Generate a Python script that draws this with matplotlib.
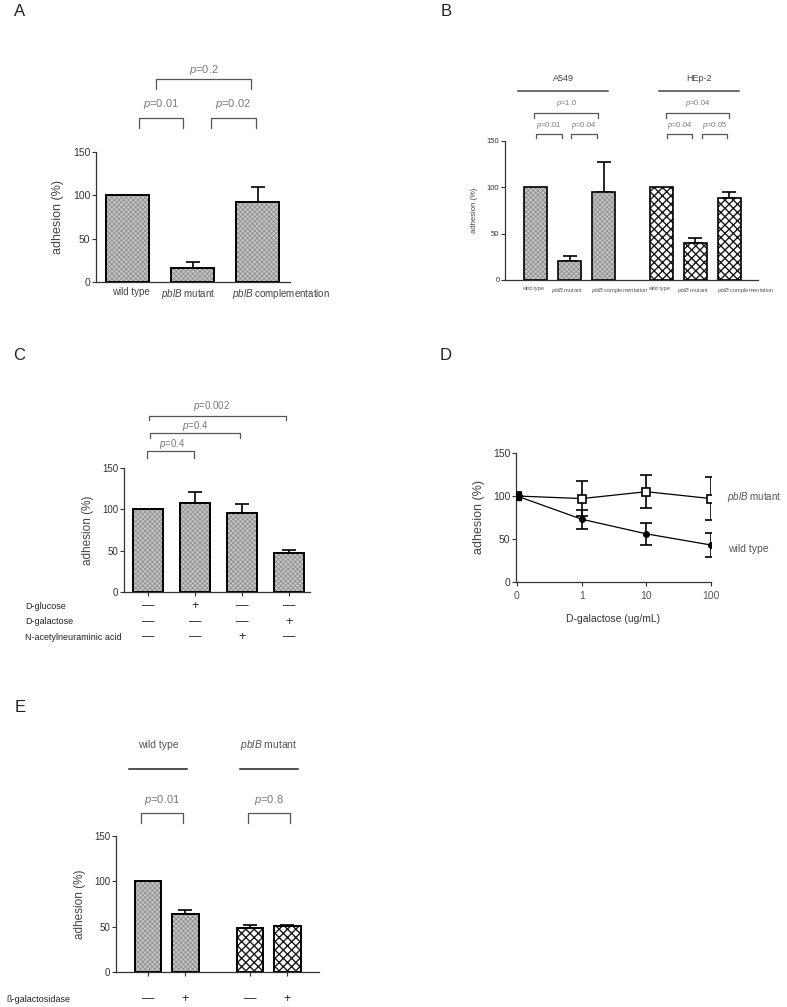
import numpy as np
import matplotlib
matplotlib.use("Agg")
import matplotlib.pyplot as plt

plt.rcParams['font.family'] = ['Liberation Sans', 'DejaVu Sans']
plt.rcParams['mathtext.fontset'] = 'custom'
plt.rcParams['mathtext.rm'] = 'Liberation Sans'
plt.rcParams['mathtext.it'] = 'Liberation Sans:italic'
plt.rcParams['hatch.linewidth'] = 0.5

W, H = 787, 1007

# ---- data ----
a_labels = ["wild type", "$\\it{pblB}$ mutant", "$\\it{pblB}$ complementation"]
a_vals = [100, 16, 92]
a_err = [0, 7, 18]

b_labels = ["wild type", "$\\it{pblB}$ mutant", "$\\it{pblB}$ complementation"] * 2
b_a549 = [100, 20, 95]
b_a549_err = [0, 6, 32]
b_hep2 = [100, 40, 88]
b_hep2_err = [0, 5, 7]

c_vals = [100, 108, 95, 47]
c_err = [0, 13, 12, 4]
c_rows = ["D-glucose", "D-galactose", "N-acetylneuraminic acid"]
c_signs = [["—", "+", "—", "—"],
           ["—", "—", "—", "+"],
           ["—", "—", "+", "—"]]

d_conc = ["0", "1", "10", "100"]
d_mut = [100, 97, 105, 97]
d_mut_err = [0, 20, 19, 25]
d_wt = [100, 73, 56, 43]
d_wt_err = [0, 11, 12.5, 13.5]

e_vals = [100, 64, 49, 51]
e_err = [0, 4, 3, 1]
e_signs = ["—", "+", "—", "+"]

FINE = dict(facecolor="#c4c4c4", hatch="xxxxxxx", edgecolor="#8a8a8a", hlw=0.5)
COARSE = dict(facecolor="white", hatch="xxxx", edgecolor="#1a1a1a", hlw=1.0)
PGREY = "#7a7a7a"
TGREY = "#444444"


def rect(x0, y0, x1, y1):
    return [x0 / W, 1 - y1 / H, (x1 - x0) / W, (y1 - y0) / H]


def style(ax, fs=7, lab_fs=8.5):
    for s in ["top", "right"]:
        ax.spines[s].set_visible(False)
    for s in ["left", "bottom"]:
        ax.spines[s].set_color("#333333")
        ax.spines[s].set_linewidth(0.9)
    ax.set_ylim(0, 150)
    ax.set_yticks([0, 50, 100, 150])
    ax.tick_params(axis="y", labelsize=fs, length=3, width=0.8,
                   colors="#333333", pad=1)
    ax.set_ylabel("adhesion (%)", fontsize=lab_fs, color=TGREY, labelpad=6)


def bars(ax, pos, vals, err, width, pat, lw=1.4):
    for x, v, e in zip(pos, vals, err):
        b = ax.bar(x, v, width, linewidth=0, facecolor=pat["facecolor"],
                   hatch=pat["hatch"], edgecolor=pat["edgecolor"], zorder=2)
        b[0]._hatch_linewidth = pat["hlw"]
        ax.bar(x, v, width, fill=False, edgecolor="black", linewidth=lw,
               zorder=3)
        if e > 0:
            ax.errorbar(x, v, yerr=[[0], [e]], color="black", capsize=5,
                        elinewidth=1.2, capthick=1.2, zorder=1)


def bracket(ax, x0, x1, ytop, ybot, text=None, ytext=None, xtext=None,
            fs=7.5, lw=0.9, color="#555555"):
    ax.plot([x0, x0, x1, x1], [ybot, ytop, ytop, ybot], color=color,
            lw=lw, clip_on=False)
    if text:
        xt = (x0 + x1) / 2 if xtext is None else xtext
        ax.text(xt, ytext, text, ha="center", va="center", fontsize=fs,
                color=PGREY, clip_on=False)


fig = plt.figure(figsize=(W / 100, H / 100), dpi=100)

# ---------- panel A ----------
ax = fig.add_axes(rect(95.7, 152, 290, 282))
bars(ax, [0, 1, 2], a_vals, a_err, 0.66, FINE)
style(ax, fs=7.5, lab_fs=9)
ax.set_xlim(-0.49, 2.5)
ax.set_xticks([])
a_lab_x = [0.05, 0.93, 1.61]
a_lab_ha = ["center", "center", "left"]
for x, lab, ha in zip(a_lab_x, a_labels, a_lab_ha):
    ax.text(x, -6, lab, ha=ha, va="top", fontsize=7, color=TGREY,
            clip_on=False)
bracket(ax, 0.18, 0.85, 189, 178, "$\\it{p}$=0.01", 205, fs=8)
bracket(ax, 1.28, 1.98, 189, 178, "$\\it{p}$=0.02", 205, fs=8)
bracket(ax, 0.44, 1.9, 234, 223, "$\\it{p}$=0.2", 245, fs=8)

# ---------- panel B ----------
ax = fig.add_axes(rect(505, 140.7, 758, 280))
pos_b = [0, 1, 2, 3.7, 4.7, 5.7]
bars(ax, pos_b[:3], b_a549, b_a549_err, 0.68, FINE, lw=1.2)
bars(ax, pos_b[3:], b_hep2, b_hep2_err, 0.68, COARSE, lw=1.2)
style(ax, fs=5.5, lab_fs=5.5)
ax.set_xlim(-0.9, 6.54)
ax.set_xticks([])
for i, (x, lab) in enumerate(zip(pos_b, b_labels)):
    if i % 3 == 2:
        ax.text(x - 0.36, -6, lab, ha="left", va="top", fontsize=4.1,
                color="#555555", clip_on=False)
    else:
        ax.text(x - 0.08, -6, lab, ha="center", va="top", fontsize=4.1,
                color="#555555", clip_on=False)
ax.plot([-0.51, 2.13], [203, 203], color="#444444", lw=1.1, clip_on=False)
ax.plot([3.63, 5.99], [203, 203], color="#444444", lw=1.1, clip_on=False)
ax.text(0.81, 217, "A549", ha="center", va="center", fontsize=6.5,
        color=TGREY)
ax.text(4.81, 217, "HEp-2", ha="center", va="center", fontsize=6.5,
        color=TGREY)
bracket(ax, -0.04, 1.84, 180, 174, "$\\it{p}$=1.0", 190.5, fs=5.5)
bracket(ax, 0.01, 0.78, 157, 153, "$\\it{p}$=0.01", 166, fs=5.5)
bracket(ax, 1.04, 1.81, 157, 153, "$\\it{p}$=0.04", 166, fs=5.5)
bracket(ax, 3.84, 5.69, 180, 174, "$\\it{p}$=0.04", 190.5, fs=5.5)
bracket(ax, 3.87, 4.6, 157, 153, "$\\it{p}$=0.04", 166, fs=5.5)
bracket(ax, 4.9, 5.63, 157, 153, "$\\it{p}$=0.05", 166, fs=5.5)

# ---------- panel C ----------
ax = fig.add_axes(rect(124, 468, 310, 592))
bars(ax, [0, 1, 2, 3], c_vals, c_err, 0.65, FINE)
style(ax, fs=7, lab_fs=8.5)
ax.set_xlim(-0.51, 3.45)
ax.set_xticks([0, 1, 2, 3])
ax.set_xticklabels([])
ax.tick_params(axis="x", length=3, width=0.8, colors="#333333")
row_y = [-17, -36, -54.5]
for name, signs, yy in zip(c_rows, c_signs, row_y):
    ax.text(-2.61, yy, name, ha="left", va="center", fontsize=6.5,
            color="#222222", clip_on=False)
    for i, s in enumerate(signs):
        ax.text(i, yy, s, ha="center", va="center", fontsize=9,
                color="#222222", clip_on=False)
bracket(ax, -0.02, 0.985, 170, 162, "$\\it{p}$=0.4", 179, xtext=0.51, fs=7)
bracket(ax, 0.04, 1.95, 192, 186, "$\\it{p}$=0.4", 201, xtext=1.0, fs=7)
bracket(ax, 0.02, 2.93, 213, 208, "$\\it{p}$=0.002", 225, xtext=1.35, fs=7)

# ---------- panel D ----------
ax = fig.add_axes(rect(516, 453, 711, 582))
xd = np.arange(len(d_conc))
ax.errorbar(xd, d_mut, yerr=d_mut_err, color="black", lw=0.9,
            marker="s", ms=5.5, mfc="white", mec="black", mew=1.2,
            capsize=4, elinewidth=1.2, capthick=1.2, zorder=3)
ax.errorbar(xd, d_wt, yerr=d_wt_err, color="black", lw=0.9,
            marker="o", ms=4, mfc="black", mec="black",
            capsize=4, elinewidth=1.2, capthick=1.2, zorder=3)
ax.plot(xd[0], d_mut[0], marker="s", ms=5.5, color="black", zorder=4)
style(ax, fs=7.5, lab_fs=9)
ax.set_xlim(-0.015, 3.0)
ax.set_xticks(xd)
ax.set_xticklabels(d_conc, fontsize=7.5)
ax.tick_params(axis="x", length=3, width=0.8, colors="#333333")
for t in ax.get_xticklabels():
    t.set_color("#555555")
ax.set_xlabel("D-galactose (ug/mL)", fontsize=7.5, color="#333333",
              labelpad=9)
ax.text(3.25, 99, "$\\it{pblB}$ mutant", ha="left", va="center",
        fontsize=7, color="#555555", clip_on=False)
ax.text(3.27, 38, "wild type", ha="left", va="center", fontsize=7.5,
        color="#555555", clip_on=False)

# ---------- panel E ----------
ax = fig.add_axes(rect(116, 836, 319, 972))
pos_e = [0, 1, 2.72, 3.72]
bars(ax, pos_e[:2], e_vals[:2], e_err[:2], 0.7, FINE)
bars(ax, pos_e[2:], e_vals[2:], e_err[2:], 0.7, COARSE)
style(ax, fs=7, lab_fs=8.5)
ax.set_xlim(-0.85, 4.56)
ax.set_xticks(pos_e)
ax.set_xticklabels([])
ax.tick_params(axis="x", length=3, width=0.8, colors="#333333")
ax.text(-3.76, -30, "ß-galactosidase", ha="left", va="center",
        fontsize=6.5, color="#222222", clip_on=False)
for x, s in zip(pos_e, e_signs):
    ax.text(x, -30, s, ha="center", va="center", fontsize=9,
            color="#222222", clip_on=False)
ax.plot([-0.51, 1.04], [224, 224], color="#222222", lw=1.1, clip_on=False)
ax.plot([2.45, 4.0], [224, 224], color="#222222", lw=1.1, clip_on=False)
ax.text(0.27, 250, "wild type", ha="center", va="center", fontsize=7.5,
        color="#555555", clip_on=False)
ax.text(3.22, 250, "$\\it{pblB}$ mutant", ha="center", va="center",
        fontsize=7.5, color="#555555", clip_on=False)
bracket(ax, -0.19, 0.93, 175, 164, "$\\it{p}$=0.01", 190, fs=8)
bracket(ax, 2.67, 3.79, 175, 164, "$\\it{p}$=0.8", 190, fs=8)

# panel letters
for lab, x, y in [("A", 14, 12), ("B", 441, 11), ("C", 13, 356),
                  ("D", 440, 355), ("E", 15, 708)]:
    fig.text(x / W, 1 - y / H, lab, fontsize=12, ha="left", va="center",
             color="#222222")

fig.savefig("out.png", dpi=100)
